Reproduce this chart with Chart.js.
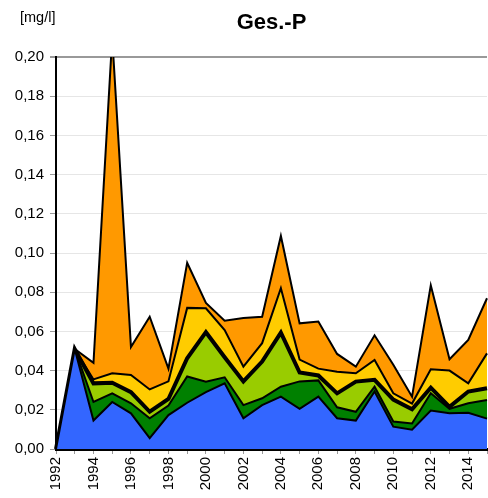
<!DOCTYPE html>
<html>
<head>
<meta charset="utf-8">
<script src="https://cdn.jsdelivr.net/npm/chart.js@4/dist/chart.umd.min.js"></script>
<style>
html,body{margin:0;padding:0;background:#fff;}
#wrap{width:488px;height:498px;}
</style>
</head>
<body>
<div id="wrap"><canvas id="c" width="488" height="498"></canvas></div>
<script>
const years = ["1992","1993","1994","1995","1996","1997","1998","1999","2000","2001","2002","2003","2004","2005","2006","2007","2008","2009","2010","2011","2012","2013","2014","2015"];
const maxVals = [0,0.051,0.044,0.21,0.052,0.0675,0.041,0.095,0.0745,0.0655,0.0668,0.0675,0.1087,0.0641,0.065,0.0485,0.042,0.058,0.043,0.0267,0.0835,0.0458,0.0556,0.0769];
const p90Vals = [0,0.051,0.0355,0.0386,0.0378,0.0304,0.0345,0.072,0.0718,0.0607,0.042,0.054,0.082,0.0456,0.041,0.0394,0.0386,0.0454,0.0284,0.0232,0.0407,0.040,0.0335,0.0488];
const medianVals = [0,0.051,0.0335,0.0338,0.029,0.019,0.0255,0.0463,0.0596,0.0468,0.0345,0.0446,0.0594,0.039,0.0375,0.0284,0.0344,0.0353,0.0252,0.0203,0.0313,0.0215,0.0293,0.031];
const p10Vals = [0,0.051,0.024,0.0284,0.0233,0.0157,0.0222,0.037,0.0343,0.0366,0.0224,0.0259,0.0318,0.0345,0.035,0.0213,0.019,0.0318,0.014,0.013,0.0284,0.0205,0.0233,0.025];
const minVals = [0,0.051,0.0145,0.024,0.0182,0.0055,0.0173,0.0236,0.029,0.0335,0.0157,0.0224,0.0267,0.0205,0.0267,0.0157,0.0145,0.0293,0.0114,0.0098,0.0196,0.0182,0.0185,0.0155];
const yTicks = [0,0.02,0.04,0.06,0.08,0.10,0.12,0.14,0.16,0.18,0.20];

const FONT = "'Liberation Sans', Arial, sans-serif";

const textPlugin = {
  id: 'texts',
  afterDraw(chart) {
    const ctx = chart.ctx;
    const ca = chart.chartArea;
    ctx.save();
    ctx.fillStyle = '#000';
    ctx.font = "bold 22px " + FONT;
    ctx.textAlign = 'center';
    ctx.textBaseline = 'alphabetic';
    ctx.fillText('Ges.-P', (ca.left + ca.right) / 2, 29);
    ctx.font = "14.5px " + FONT;
    ctx.textAlign = 'left';
    ctx.fillText('[mg/l]', 20, 22);
    ctx.restore();
  }
};

function ds(label, data, color, bw) {
  return {
    label: label,
    data: data,
    backgroundColor: color,
    borderColor: '#000',
    borderWidth: bw,
    fill: 'origin',
    pointRadius: 0,
    pointHoverRadius: 0,
    tension: 0,
    borderJoinStyle: 'miter'
  };
}

new Chart(document.getElementById('c'), {
  type: 'line',
  data: {
    labels: years,
    datasets: [
      ds('Min', minVals, '#3366FF', 2),
      ds('10-Perzentil', p10Vals, '#008000', 2),
      ds('Median', medianVals, '#99CC00', 4),
      ds('90-Perzentil', p90Vals, '#FFCC00', 2),
      ds('Max', maxVals, '#FF9900', 2)
    ]
  },
  options: {
    responsive: false,
    animation: false,
    devicePixelRatio: 1,
    layout: { padding: { left: 0, right: 1, top: 57, bottom: 0 } },
    plugins: { legend: { display: false }, tooltip: { enabled: false }, title: { display: false } },
    scales: {
      x: {
        type: 'category',
        offset: false,
        border: { display: true, color: '#000', width: 3 },
        grid: { display: true, drawOnChartArea: false, drawTicks: true, tickLength: 5, color: '#999' },
        ticks: {
          autoSkip: false,
          maxRotation: 90,
          minRotation: 90,
          padding: 3,
          color: '#000',
          font: { family: FONT, size: 15 },
          callback: function(v, i) { const y = years[i]; return (parseInt(y) % 2 === 0) ? y : ''; }
        },
        afterFit(scale) { scale.height = 49; scale.paddingRight = 0; scale.paddingLeft = 0; }
      },
      y: {
        min: 0,
        max: 0.2,
        border: { display: true, color: '#000', width: 2 },
        grid: {
          color: ctx => (ctx.tick && Math.abs(ctx.tick.value - 0.2) < 1e-9) ? '#999' : '#e6e6e6',
          lineWidth: ctx => (ctx.tick && Math.abs(ctx.tick.value - 0.2) < 1e-9) ? 2 : 1,
          tickColor: '#999',
          tickLength: 6,
          drawTicks: true
        },
        afterBuildTicks(scale) { scale.ticks = yTicks.map(v => ({ value: v })); },
        ticks: {
          padding: 6,
          color: '#000',
          font: { family: FONT, size: 15 },
          callback: v => v.toFixed(2).replace('.', ',')
        },
        afterFit(scale) { scale.width = 56; scale.paddingTop = 0; scale.paddingBottom = 0; }
      }
    }
  },
  plugins: [textPlugin]
});
</script>
</body>
</html>
